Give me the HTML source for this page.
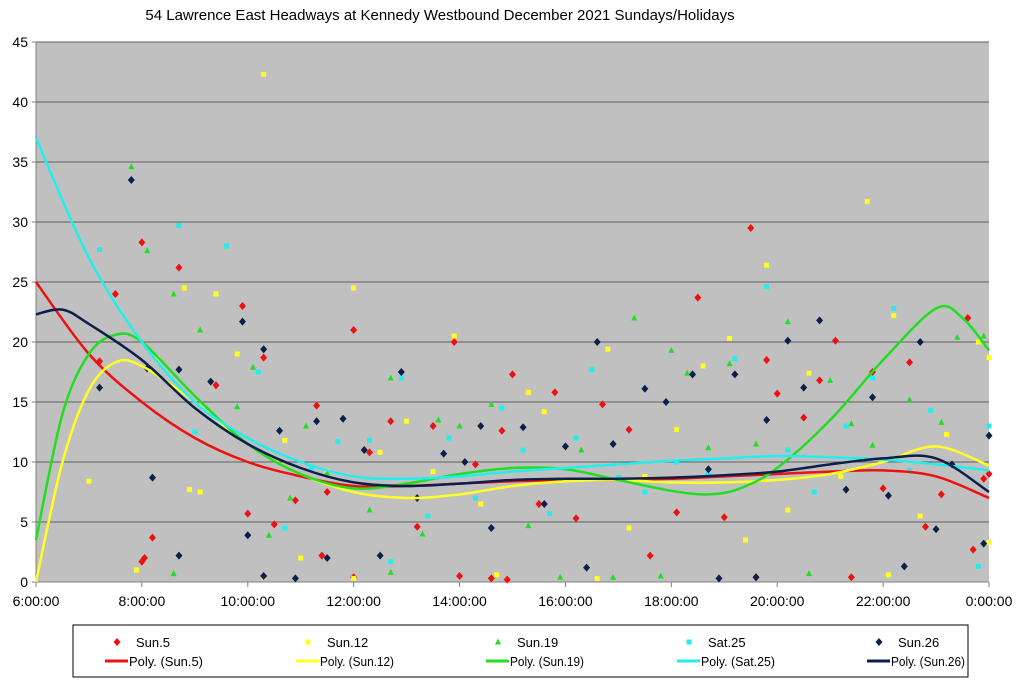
<!DOCTYPE html>
<html><head><meta charset="utf-8"><style>
body{margin:0;background:#fff;}
svg{display:block;font-family:"Liberation Sans",sans-serif;}
</style></head><body>
<svg id="c" width="1024" height="682" viewBox="0 0 1024 682">
<text x="440" y="20" text-anchor="middle" font-size="15" fill="#000">54 Lawrence East Headways at Kennedy Westbound December 2021  Sundays/Holidays</text>
<rect x="36" y="42" width="953" height="540" fill="#c0c0c0"/>
<g id="grid"></g><g id="axes"></g><g id="pts"></g><g id="trends"></g>
<g id="legend">
<rect x="73" y="625" width="895" height="52" fill="#fff" stroke="#000" stroke-width="1"/>
</g>
</svg>
<script>
const yTicks=[0,5,10,15,20,25,30,35,40,45];
const xTickHours=[6,8,10,12,14,16,18,20,22,24];
const xTickLabels=["6:00:00","8:00:00","10:00:00","12:00:00","14:00:00","16:00:00","18:00:00","20:00:00","22:00:00","0:00:00"];
const seriesNames=["Sun.5","Sun.12","Sun.19","Sat.25","Sun.26"];
const sun5=[[7.5,24],[7.2,18.4],[8.0,28.3],[8.05,2],[8.0,1.7],[8.2,3.7],[8.7,26.2],[9.4,16.4],[9.9,23],[10.0,5.7],[10.3,18.7],[10.5,4.8],[10.9,6.8],[11.3,14.7],[11.4,2.2],[11.5,7.5],[12.0,21],[12.0,0.4],[12.3,10.8],[12.7,13.4],[13.2,4.6],[13.5,13],[13.9,20],[14.0,0.5],[14.3,9.8],[14.8,12.6],[15.0,17.3],[14.6,0.3],[14.9,0.2],[15.5,6.5],[15.8,15.8],[16.2,5.3],[16.7,14.8],[17.2,12.7],[17.6,2.2],[18.1,5.8],[18.5,23.7],[19.0,5.4],[19.5,29.5],[19.6,0.4],[19.8,18.5],[20.0,15.7],[20.5,13.7],[20.8,16.8],[21.1,20.1],[21.4,0.4],[21.8,17.5],[22.0,7.8],[22.5,18.3],[22.8,4.6],[23.1,7.3],[23.6,22],[23.7,2.7],[23.9,8.6],[24,9]];
const sun12=[[7.0,8.4],[7.9,1],[8.3,18.6],[8.8,24.5],[8.9,7.7],[9.1,7.5],[9.4,24],[9.8,19],[10.3,42.3],[10.3,0.4],[10.7,11.8],[11.0,2],[11.5,9.2],[12.0,24.5],[12.0,0.3],[12.5,10.8],[13.0,13.4],[13.5,9.2],[13.9,20.5],[14.4,6.5],[14.7,0.6],[15.3,15.8],[15.6,14.2],[16.6,0.3],[16.8,19.4],[17.2,4.5],[17.5,8.8],[18.1,12.7],[18.6,18],[19.1,20.3],[19.4,3.5],[19.8,26.4],[20.2,6],[20.6,17.4],[21.2,8.8],[21.7,31.7],[22.1,0.6],[22.2,22.2],[22.7,5.5],[23.2,12.3],[23.8,20],[24,18.7],[24,3.3]];
const sun19=[[7.8,34.6],[8.1,27.6],[8.6,24],[8.6,0.7],[9.1,21],[9.8,14.6],[10.1,17.9],[10.4,3.9],[10.8,7],[11.1,13],[11.5,9.1],[12.3,6],[12.7,17],[12.7,0.8],[13.3,4],[13.6,13.5],[14.0,13],[14.6,14.8],[15.3,4.7],[15.9,0.4],[16.3,11],[16.9,0.4],[17.3,22],[17.8,0.5],[18.0,19.3],[18.3,17.4],[18.7,11.2],[19.1,18.2],[19.6,11.5],[20.2,21.7],[20.6,0.7],[21.0,16.8],[21.4,13.2],[21.8,11.4],[22.5,15.2],[23.1,13.3],[23.4,20.4],[23.9,20.5]];
const sat25=[[7.2,27.7],[8.7,29.7],[9.6,28],[9.0,12.5],[10.2,17.5],[10.7,4.5],[11.2,9.5],[11.7,11.7],[12.3,11.8],[12.7,1.7],[12.9,17],[13.4,5.5],[13.8,12],[14.3,7],[14.8,14.5],[15.2,11],[15.7,5.7],[16.2,12],[16.5,17.7],[17.0,8.7],[17.5,7.5],[18.1,10],[18.7,9],[19.2,18.6],[19.8,24.6],[20.2,11],[20.7,7.5],[21.3,13],[21.8,17],[22.2,22.8],[22.5,9.3],[22.9,14.3],[23.4,9.5],[23.8,1.3],[24,13]];
const sun26=[[7.2,16.2],[7.8,33.5],[8.1,17.8],[8.2,8.7],[8.7,17.7],[8.7,2.2],[9.3,16.7],[9.9,21.7],[10.0,3.9],[10.3,19.4],[10.3,0.5],[10.6,12.6],[10.9,0.3],[11.3,13.4],[11.8,13.6],[11.5,2],[12.2,11],[12.5,2.2],[12.9,17.5],[13.2,7],[13.7,10.7],[14.1,10],[14.4,13],[14.6,4.5],[15.2,12.9],[15.6,6.5],[16.0,11.3],[16.4,1.2],[16.6,20],[16.9,11.5],[17.5,16.1],[17.9,15],[18.4,17.3],[18.7,9.4],[18.9,0.3],[19.2,17.3],[19.6,0.4],[19.8,13.5],[20.2,20.1],[20.5,16.2],[20.8,21.8],[21.3,7.7],[21.8,15.4],[22.1,7.2],[22.4,1.3],[22.7,20],[23.0,4.4],[23.3,9.8],[23.9,3.2],[24,12.2]];
const trend5=[[6,25],[7,19],[8,15],[9,12],[10,10],[11,8.8],[12,8],[13,8],[14,8.2],[15,8.4],[16,8.5],[17,8.5],[18,8.6],[19,8.8],[20,9.0],[21,9.2],[22,9.3],[23,8.8],[24,7]];
const trend12=[[6,0],[6.5,10],[7,16],[7.5,18.3],[8,18],[9,15],[10,11.5],[11,9],[12,7.5],[13,7],[14,7.3],[15,8],[16,8.4],[17,8.5],[18,8.3],[19,8.3],[20,8.5],[21,9],[22,10],[23,11.3],[24,9.7]];
const trend19=[[6,3.5],[6.5,14],[7,19],[7.5,20.6],[8,20],[9,15.5],[10,11.5],[11,9],[12,7.8],[13,8.2],[14,9],[15,9.5],[16,9.4],[17,8.5],[18,7.6],[18.7,7.3],[19.3,7.8],[20,9.5],[21,13.5],[22,18.5],[23,22.8],[23.5,22],[24,19.3]];
const trend25=[[6,37],[7,27],[8,20],[9,15],[10,12],[11,10],[12,8.8],[13,8.6],[14,8.8],[15,9.2],[16,9.5],[17,9.8],[18,10.1],[19,10.3],[20,10.5],[21,10.4],[22,10.2],[23,9.8],[24,9.3]];
const trend26=[[6,22.3],[6.5,22.7],[7,21.5],[8,18.5],[9,14.5],[10,11.5],[11,9.5],[12,8.3],[13,8],[14,8.2],[15,8.5],[16,8.6],[17,8.6],[18,8.7],[19,8.9],[20,9.2],[21,9.8],[22,10.3],[23,10.3],[24,7.5]];

const NS="http://www.w3.org/2000/svg";
const X0=36,X1=989,Y0=582,Y1=42;
const xs=h=>X0+(h-6)/18*(X1-X0);
const ys=v=>Y0-v/45*(Y0-Y1);
function mk(tag,attrs,parent){const e=document.createElementNS(NS,tag);for(const k in attrs)e.setAttribute(k,attrs[k]);parent.appendChild(e);return e;}
const grid=document.getElementById('grid'),axes=document.getElementById('axes');
yTicks.forEach(v=>{
  const g=mk('line',{x1:X0,x2:X1,y1:ys(v),y2:ys(v),stroke:v===0?'#808080':'#606060','stroke-width':1},grid);
  
  
  mk('line',{x1:X0-4,x2:X0,y1:ys(v),y2:ys(v),stroke:'#808080'},axes);
  const t=mk('text',{x:X0-8,y:ys(v)+5,'text-anchor':'end','font-size':14},axes);t.textContent=v;
  
  
});
mk('line',{x1:X0,x2:X0,y1:Y1,y2:Y0,stroke:'#808080'},axes);
xTickHours.forEach((h,i)=>{
  mk('line',{x1:xs(h),x2:xs(h),y1:Y0,y2:Y0+5,stroke:'#808080'},axes);
  const t=mk('text',{x:xs(h),y:606,'text-anchor':'middle','font-size':14},axes);t.textContent=xTickLabels[i];
  
  
});
const colors=['#ee1111','#ffff22','#22dd22','#22eeee','#0a1f4a'];
const data=[sun5,sun12,sun19,sat25,sun26];
const trends=[trend5,trend12,trend19,trend25,trend26];
function marker(k,x,y,parent){
  const c=colors[k];let e;
  if(k===0||k===4) e=mk('polygon',{points:`${x},${y-4} ${x+3.5},${y} ${x},${y+4} ${x-3.5},${y}`,fill:c},parent);
  else if(k===2) e=mk('polygon',{points:`${x},${y-3.5} ${x+3},${y+2.5} ${x-3},${y+2.5}`,fill:c},parent);
  else e=mk('rect',{x:x-2.5,y:y-2.5,width:5,height:5,fill:c},parent);
  return e;
}
const pts=document.getElementById('pts');
data.forEach((arr,k)=>{arr.forEach(p=>{
  const e=marker(k,xs(p[0]),ys(p[1]),pts);
  
  
});});
function smooth(P){
  let d=`M${P[0][0]},${P[0][1]}`;
  for(let i=0;i<P.length-1;i++){
    const p0=P[i-1]||P[i],p1=P[i],p2=P[i+1],p3=P[i+2]||p2;
    const c1=[p1[0]+(p2[0]-p0[0])/6,p1[1]+(p2[1]-p0[1])/6];
    const c2=[p2[0]-(p3[0]-p1[0])/6,p2[1]-(p3[1]-p1[1])/6];
    d+=` C${c1[0]},${c1[1]} ${c2[0]},${c2[1]} ${p2[0]},${p2[1]}`;
  }
  return d;
}
const tg=document.getElementById('trends');
trends.forEach((arr,k)=>{
  const P=arr.map(p=>[xs(p[0]),ys(p[1])]);
  const e=mk('path',{d:smooth(P),fill:'none',stroke:colors[k],'stroke-width':2.5},tg);
  
  
});
const lg=document.getElementById('legend');
const lx=[112,303,493,684,874];
seriesNames.forEach((n,k)=>{
  const m=marker(k,lx[k]+5,642,lg);
  
  
  const t=mk('text',{x:lx[k]+24,y:647,'font-size':13},lg);t.textContent=n;
  
  
  const l=mk('line',{x1:lx[k]-7,x2:lx[k]+16,y1:661,y2:661,stroke:colors[k],'stroke-width':3},lg);
  
  
  const t2=mk('text',{x:lx[k]+17,y:666,'font-size':12.5,textLength:74,lengthAdjust:'spacingAndGlyphs'},lg);t2.textContent='Poly. ('+n+')';
  
  
});
</script>
</body></html>
